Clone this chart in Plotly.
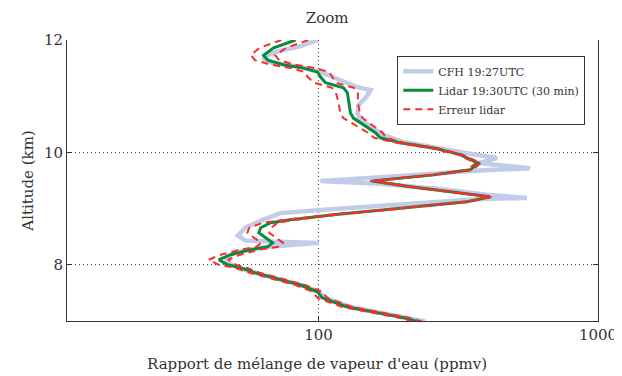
import plotly.graph_objects as go

# CFH sonde profile (ppmv vs km)
cfh_alt = [12.0, 11.89, 11.79, 11.68, 11.59, 11.52, 11.43, 11.34, 11.16, 11.11, 10.99, 10.84, 10.70,
           10.58, 10.44, 10.31, 10.19, 10.08, 9.99, 9.90, 9.81, 9.72, 9.67, 9.58, 9.49, 9.44, 9.35,
           9.24, 9.19, 9.17, 9.08, 8.99, 8.92, 8.80, 8.66, 8.52, 8.43, 8.39, 8.32, 8.23, 8.12, 8.02,
           7.93, 7.82, 7.73, 7.63, 7.52, 7.41, 7.25, 7.15, 7.06, 6.99]
cfh_val = [99.2, 86.2, 70.2, 63.1, 68.5, 86.2, 101.7, 113.1, 137.8, 153.4, 148.4, 138.9, 137.8,
           141.3, 156.0, 170.6, 199.5, 261.8, 335.0, 435.5, 372.7, 571.4, 349.0, 196.0, 101.7, 166.0, 272.9,
           411.0, 557.0, 378.9, 196.0, 110.4, 73.1, 63.1, 54.8, 51.4, 54.8, 100.0, 66.3, 50.5, 46.5, 47.7,
           52.6, 63.1, 73.1, 87.7, 100.0, 105.9, 130.1, 166.4, 204.4, 241.0]

# Lidar profile (30 min integration)
lid_alt = [12.0, 11.86, 11.73, 11.64, 11.56, 11.50, 11.43, 11.34, 11.24, 11.15, 11.06, 10.90, 10.70,
           10.61, 10.45, 10.35, 10.26, 10.17, 10.08, 9.96, 9.81, 9.69, 9.60, 9.49, 9.39, 9.30, 9.21,
           9.12, 9.01, 8.89, 8.80, 8.75, 8.66, 8.57, 8.48, 8.39, 8.32, 8.27, 8.18, 8.09, 8.00, 7.95,
           7.86, 7.77, 7.64, 7.52, 7.41, 7.25, 7.15, 7.06, 6.99]
lid_val = [82.8, 69.1, 63.6, 65.8, 75.0, 88.4, 99.2, 101.7, 105.9, 122.8, 126.9, 128.0, 130.1,
           133.3, 149.6, 159.8, 166.4, 196.3, 257.5, 321.4, 372.7, 349.0, 257.5, 156.0, 213.0, 296.0, 411.0,
           340.0, 196.0, 113.0, 79.4, 67.4, 62.1, 61.1, 64.7, 68.5, 65.8, 57.2, 48.5, 44.0, 47.3, 52.6,
           59.0, 69.1, 86.2, 99.2, 103.3, 126.9, 162.4, 201.0, 225.8]
# Lidar relative error (%)
lid_err = [11, 11, 10, 10, 10, 10, 10, 10, 9, 9, 9, 8, 8,
           8, 7, 6, 5, 3, 3, 2, 2, 2, 2, 2, 2, 2, 2,
           2, 2, 3, 4, 6, 9, 9, 9, 9, 9, 8, 8, 8, 7, 5,
           4, 4, 4, 4, 4, 4, 4, 4, 4]

err_hi = [v * (1 + e / 100) for v, e in zip(lid_val, lid_err)]
err_lo = [v * (1 - e / 100) for v, e in zip(lid_val, lid_err)]

font_family = "DejaVu Serif"
txt = "#333"

fig = go.Figure()
fig.add_trace(go.Scatter(x=cfh_val, y=cfh_alt, mode="lines", name="CFH 19:27UTC",
                         line=dict(color="#c0cce8", width=4.5)))
fig.add_trace(go.Scatter(x=lid_val, y=lid_alt, mode="lines", name="Lidar 19:30UTC (30 min)",
                         line=dict(color="#0a8a3c", width=3)))
fig.add_trace(go.Scatter(x=err_hi, y=lid_alt, mode="lines", name="Erreur lidar",
                         line=dict(color="#ff2a2a", width=2, dash="7px,5px")))
fig.add_trace(go.Scatter(x=err_lo, y=lid_alt, mode="lines", name="Erreur lidar", showlegend=False,
                         line=dict(color="#ff2a2a", width=2, dash="7px,5px")))

fig.update_layout(
    width=622, height=376,
    margin=dict(l=59, r=32, t=32, b=63),
    paper_bgcolor="white", plot_bgcolor="white",
    font=dict(family=font_family, size=15, color=txt),
    title=dict(text="Zoom", x=0.49, xref="paper", xanchor="center", y=0.975, yanchor="middle",
               font=dict(family=font_family, size=15, color=txt)),
    showlegend=True,
    legend=dict(x=0.622, y=0.944, xanchor="left", yanchor="top",
                bgcolor="white", bordercolor="#333", borderwidth=1,
                font=dict(family=font_family, size=11, color=txt),
                tracegroupgap=0, itemwidth=30),
    annotations=[dict(text="Rapport de mélange de vapeur d'eau (ppmv)", xref="paper", yref="paper",
                      x=0.471, y=0, xanchor="center", yanchor="top", yshift=-32, showarrow=False,
                      font=dict(family=font_family, size=15, color=txt))],
)
fig.update_xaxes(type="log", range=[1.1, 3], tickvals=[100, 1000], ticktext=["100", "1000"],
                 ticks="inside", ticklen=5, tickcolor="#333",
                 showline=True, linecolor="#333", linewidth=1, mirror=False,
                 showgrid=True, gridcolor="#444", gridwidth=1, griddash="1px,3px",
                 zeroline=False)
fig.update_yaxes(range=[7, 12], tickvals=[8, 10, 12], ticktext=["8", "10", "12"],
                 ticks="inside", ticklen=5, tickcolor="#333",
                 showline=True, linecolor="#333", linewidth=1, mirror="ticks",
                 showgrid=True, gridcolor="#444", gridwidth=1, griddash="1px,3px",
                 zeroline=False,
                 title=dict(text="Altitude (km)", standoff=6,
                            font=dict(family=font_family, size=15)))

fig.write_html("out.html")
